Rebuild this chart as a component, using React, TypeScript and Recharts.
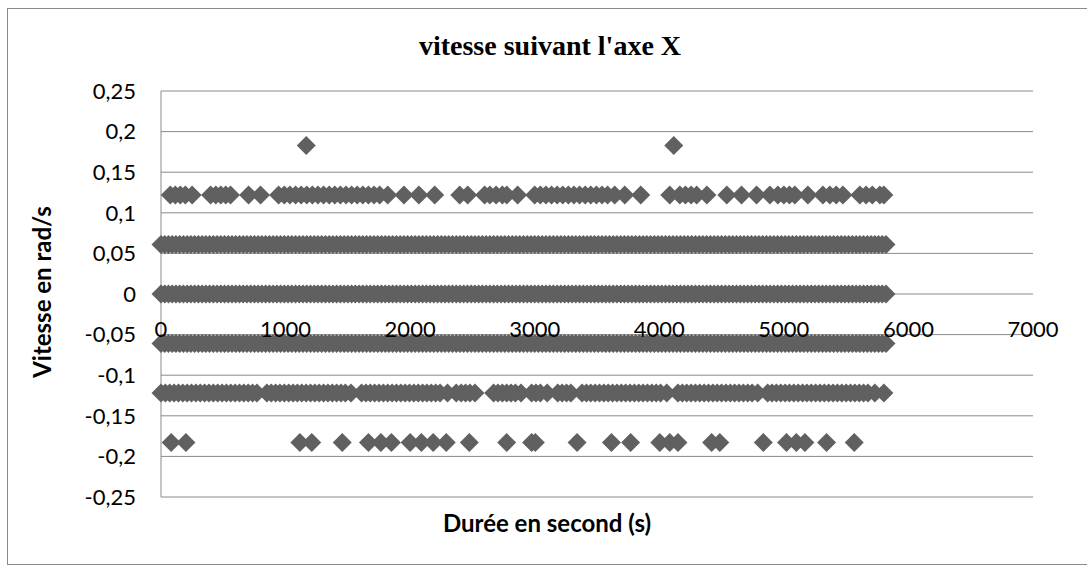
import React from "react";
import { ScatterChart, Scatter, XAxis, YAxis, CartesianGrid } from "recharts";

// Durée (s) of the samples on the three solid rows (0 and ±0.061 rad/s)
const timeDense = [
  0, 30, 60, 90, 120, 150, 180, 210, 240, 270,
  300, 330, 360, 390, 420, 450, 480, 510, 540, 570,
  600, 630, 660, 690, 720, 750, 780, 810, 840, 870,
  900, 930, 960, 990, 1020, 1050, 1080, 1110, 1140, 1170,
  1200, 1230, 1260, 1290, 1320, 1350, 1380, 1410, 1440, 1470,
  1500, 1530, 1560, 1590, 1620, 1650, 1680, 1710, 1740, 1770,
  1800, 1830, 1860, 1890, 1920, 1950, 1980, 2010, 2040, 2070,
  2100, 2130, 2160, 2190, 2220, 2250, 2280, 2310, 2340, 2370,
  2400, 2430, 2460, 2490, 2520, 2550, 2580, 2610, 2640, 2670,
  2700, 2730, 2760, 2790, 2820, 2850, 2880, 2910, 2940, 2970,
  3000, 3030, 3060, 3090, 3120, 3150, 3180, 3210, 3240, 3270,
  3300, 3330, 3360, 3390, 3420, 3450, 3480, 3510, 3540, 3570,
  3600, 3630, 3660, 3690, 3720, 3750, 3780, 3810, 3840, 3870,
  3900, 3930, 3960, 3990, 4020, 4050, 4080, 4110, 4140, 4170,
  4200, 4230, 4260, 4290, 4320, 4350, 4380, 4410, 4440, 4470,
  4500, 4530, 4560, 4590, 4620, 4650, 4680, 4710, 4740, 4770,
  4800, 4830, 4860, 4890, 4920, 4950, 4980, 5010, 5040, 5070,
  5100, 5130, 5160, 5190, 5220, 5250, 5280, 5310, 5340, 5370,
  5400, 5430, 5460, 5490, 5520, 5550, 5580, 5610, 5640, 5670,
  5700, 5730, 5760, 5790, 5820,
];

// Durée (s) of samples at +0.122 rad/s
const timePos122 = [
  75, 115, 155, 195, 250, 398, 440, 480, 520, 558, 703, 799,
  944, 990, 1035, 1080, 1125, 1170, 1215, 1260, 1305, 1350, 1395, 1440,
  1485, 1530, 1575, 1620, 1665, 1710, 1755, 1820, 1950, 2070, 2197,
  2398, 2462, 2598, 2640, 2690, 2740, 2776, 2863,
  3000, 3045, 3090, 3135, 3180, 3225, 3270, 3315, 3360, 3405, 3450, 3495,
  3540, 3585, 3642, 3723, 3851,
  4084, 4165, 4210, 4255, 4300, 4382, 4542, 4660, 4781, 4888, 4952, 5000,
  5045, 5088, 5193, 5313, 5369, 5420, 5474, 5610, 5660, 5710, 5771, 5803,
];

// Durée (s) of samples at -0.122 rad/s
const timeNeg122 = [
  0, 35, 70, 105, 140, 175, 210, 245, 280, 315, 350, 385, 420, 455, 490,
  525, 560, 595, 630, 665, 700, 735, 770, 850, 885, 920, 955, 990, 1025,
  1060, 1095, 1130, 1165, 1200, 1235, 1270, 1305, 1340, 1375, 1410, 1445,
  1480, 1525, 1610, 1645, 1680, 1715, 1750, 1785, 1820, 1855, 1890, 1925,
  1960, 1995, 2030, 2065, 2100, 2135, 2170, 2205, 2240, 2300, 2370, 2410,
  2445, 2480, 2520, 2670, 2705, 2740, 2775, 2810, 2845, 2890, 2975, 3010,
  3045, 3100, 3185, 3220, 3255, 3290, 3380, 3415, 3450, 3485, 3520, 3555,
  3590, 3625, 3660, 3695, 3730, 3765, 3800, 3835, 3870, 3905, 3940, 3975,
  4010, 4060, 4150, 4185, 4220, 4255, 4290, 4325, 4360, 4395, 4430, 4465,
  4500, 4535, 4570, 4605, 4640, 4675, 4710, 4745, 4790, 4870, 4905, 4940,
  4975, 5010, 5045, 5080, 5115, 5150, 5185, 5220, 5255, 5290, 5325, 5360,
  5395, 5430, 5465, 5500, 5535, 5570, 5605, 5640, 5675, 5730, 5803,
];

// Durée (s) of samples at +0.183 rad/s
const timePos183 = [1166, 4116];

// Durée (s) of samples at -0.183 rad/s
const timeNeg183 = [
  82, 200, 1115, 1210, 1455, 1665, 1765, 1850, 2000, 2090, 2185, 2290,
  2475, 2775, 2975, 3005, 3340, 3616, 3770, 4004, 4084, 4150, 4420, 4486,
  4835, 5021, 5100, 5169, 5343, 5565,
];

// Vitesse levels (rad/s) and the times sampled at each
const rowLevels = [0.183, 0.122, 0.061, 0, -0.061, -0.122, -0.183];
const rowTimes = [timePos183, timePos122, timeDense, timeDense, timeDense, timeNeg122, timeNeg183];

const xTicks = [0, 1000, 2000, 3000, 4000, 5000, 6000, 7000];
const xTickLabels = ["0", "1000", "2000", "3000", "4000", "5000", "6000", "7000"];
const yTicks = [-0.25, -0.2, -0.15, -0.1, -0.05, 0, 0.05, 0.1, 0.15, 0.2, 0.25];
const yTickLabels = ["-0,25", "-0,2", "-0,15", "-0,1", "-0,05", "0", "0,05", "0,1", "0,15", "0,2", "0,25"];

const points = rowLevels.flatMap((v, i) => rowTimes[i].map((t) => ({ t, v })));

const MARK = "#606060";
const GRID = "#8a8a8a";
const TICK_FONT = "Lato, 'Open Sans', sans-serif";

const Diamond = (props: any) => {
  const { cx, cy } = props;
  if (cx == null || cy == null) return null;
  const h = 9.5;
  return (
    <polygon
      points={`${cx},${cy - h} ${cx + h},${cy} ${cx},${cy + h} ${cx - h},${cy}`}
      fill={MARK}
    />
  );
};

const XTick = (props: any) => {
  const { x, y, payload } = props;
  const idx = xTicks.indexOf(payload.value);
  return (
    <text x={x} y={y - 160} textAnchor="middle" fontFamily={TICK_FONT} fontSize={22} fill="#000">
      {idx >= 0 ? xTickLabels[idx] : payload.value}
    </text>
  );
};

const yFmt = (v: number) => {
  const idx = yTicks.findIndex((t) => Math.abs(t - v) < 1e-9);
  return idx >= 0 ? yTickLabels[idx] : String(v);
};

export default function App() {
  return (
    <div style={{ position: "absolute", left: 0, top: 0, width: 1087, height: 566, background: "#fff" }}>
      <ScatterChart width={1087} height={566} margin={{ top: 91, right: 54, bottom: 39, left: 101 }}>
        <CartesianGrid horizontal vertical={false} stroke={GRID} strokeWidth={1} />
        <XAxis
          type="number"
          dataKey="t"
          domain={[0, 7000]}
          ticks={xTicks}
          axisLine={false}
          tickLine={false}
          tickSize={0}
          tickMargin={0}
          height={30}
          tick={<XTick />}
          interval={0}
        />
        <YAxis
          type="number"
          dataKey="v"
          domain={[-0.25, 0.25]}
          ticks={yTicks}
          tickFormatter={yFmt}
          axisLine={{ stroke: GRID, strokeWidth: 1 }}
          tickLine={false}
          tickSize={0}
          tickMargin={25}
          width={60}
          interval={0}
          tick={{ fontFamily: TICK_FONT, fontSize: 22, fill: "#000" }}
        />
        <Scatter data={points} shape={<Diamond />} isAnimationActive={false} fill={MARK} />
      </ScatterChart>
      <svg
        width={1087}
        height={566}
        style={{ position: "absolute", left: 0, top: 0, pointerEvents: "none" }}
      >
        <rect x={7.5} y={8.5} width={1080} height={556} fill="none" stroke="#8a8a8a" strokeWidth={1} />
        <text
          x={550}
          y={55}
          textAnchor="middle"
          fontFamily="'Liberation Serif', 'Times New Roman', serif"
          fontWeight="bold"
          fontSize={28}
          fill="#000"
        >
          vitesse suivant l'axe X
        </text>
        <text
          x={547}
          y={532}
          textAnchor="middle"
          fontFamily={TICK_FONT}
          fontWeight="bold"
          fontSize={24}
          fill="#000"
        >
          Durée en second (s)
        </text>
        <text
          transform="translate(51,292) rotate(-90)"
          textAnchor="middle"
          fontFamily={TICK_FONT}
          fontWeight="bold"
          fontSize={24}
          fill="#000"
        >
          Vitesse en rad/s
        </text>
      </svg>
    </div>
  );
}
